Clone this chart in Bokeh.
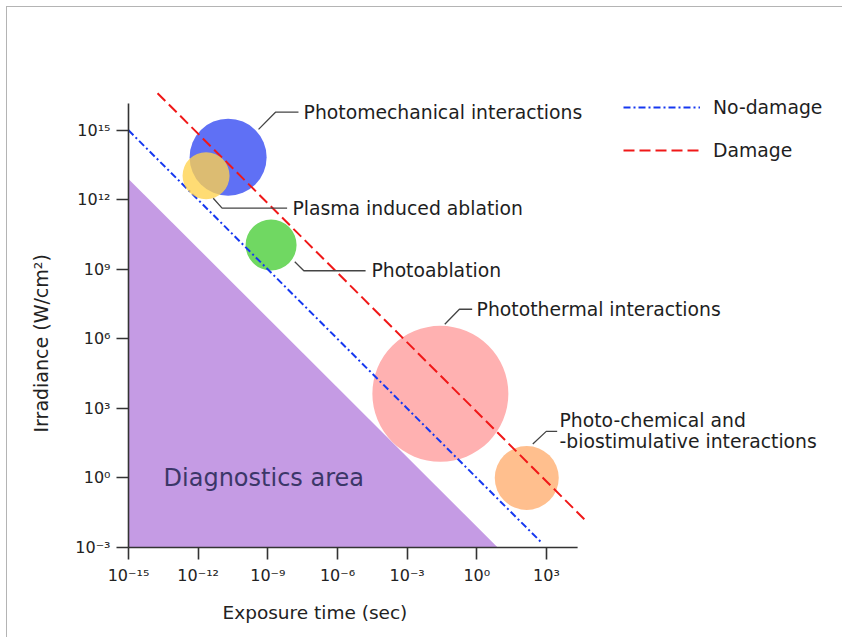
import numpy as np
from bokeh.plotting import figure
from bokeh.models import Range1d, FixedTicker, Legend, LegendItem, ColumnDataSource, Title
from bokeh.core.properties import value
from bokeh.embed import file_html
from bokeh.resources import INLINE

# ---------------- data (log10 values) ----------------
interactions = ["Photomechanical interactions", "Plasma induced ablation", "Photoablation",
                "Photothermal interactions", "Photo-chemical and\n-biostimulative interactions"]
bubble_log_time = [-10.71, -11.66, -8.86, -1.57, 2.15]      # log10(exposure time, s)
bubble_log_irr = [13.84, 13.04, 10.05, 3.63, 0.0]           # log10(irradiance, W/cm2)
bubble_diam_px = [77, 47, 51, 136, 64]
bubble_colors = ["#5f70f5", "#ffd24d", "#70d862", "#ffb1b1", "#ffbf8e"]

# threshold lines: log irradiance = offset - log time
no_damage_log_time = [-15.0, 2.8]
no_damage_offset = 0.0
damage_log_time = [-13.75, 4.77]
damage_offset = 2.85

# diagnostics area triangle
diag_log_time = [-15.0, -15.0, 0.9]
diag_log_irr = [-3.0, 12.9, -3.0]

x_tick_exp = [-15, -12, -9, -6, -3, 0, 3]
y_tick_exp = [-3, 0, 3, 6, 9, 12, 15]
x_axis_end_exp = 4.34
y_axis_end_exp = 16.16

# annotation leader lines (log coords) and text anchors
leader_x = [[-9.40, -8.67, -7.68], [-11.35, -10.97, -8.17], [-7.84, -7.45, -4.79],
            [-1.38, -0.75, -0.20], [2.41, 2.99, 3.46]]
leader_y = [[15.04, 15.78, 15.78], [12.07, 11.64, 11.64], [9.33, 8.94, 8.94],
            [6.63, 7.28, 7.28], [1.47, 2.01, 2.01]]
label_x = [-7.46, -7.94, -4.54, -0.01, 3.56]
label_y = [15.78, 11.64, 8.94, 7.28, 2.01]

P = lambda e: 10.0 ** np.asarray(e, dtype=float)
sup = str.maketrans("-0123456789", "⁻⁰¹²³⁴⁵⁶⁷⁸⁹")
FONT = "DejaVu Sans"

# ---------------- figure ----------------
W, H = 836, 631
p = figure(width=W, height=H, x_axis_type="log", y_axis_type="log",
           output_backend="svg", toolbar_location=None,
           min_border_left=119, min_border_right=0, min_border_top=13, min_border_bottom=88,
           x_range=Range1d(10 ** -15.086, 10 ** 15.79),
           y_range=Range1d(10 ** -3.086, 10 ** 19.737))
p.outline_line_color = None
p.grid.visible = False
p.background_fill_color = "white"
p.border_fill_color = "white"
p.styles = {"margin-left": "6px", "margin-top": "6px",
            "border-top": "1px solid #b4b4b4", "border-left": "1px solid #b4b4b4"}

# diagnostics area
p.patch(P(diag_log_time), P(diag_log_irr), fill_color="#c59be4", line_color=None)
p.text(x=[10 ** -13.49], y=[1.0], text=["Diagnostics area"], text_font=value(FONT),
       text_font_size="24px", text_color="#3b3768", text_baseline="middle", text_align="left")

# bubbles (all except the translucent plasma one, which sits above the lines)
src = ColumnDataSource(dict(x=P(bubble_log_time), y=P(bubble_log_irr), d=bubble_diam_px,
                            c=bubble_colors, name=interactions))
order_under = [0, 2, 3, 4]
src_under = ColumnDataSource({k: [v[i] for i in order_under] for k, v in src.data.items()})
src_over = ColumnDataSource({k: [v[1]] for k, v in src.data.items()})
p.scatter("x", "y", size="d", fill_color="c", line_color=None, source=src_under)

# threshold lines
nd_x = P(no_damage_log_time)
nd_y = P(no_damage_offset - np.asarray(no_damage_log_time))
dm_x = P(damage_log_time)
dm_y = P(damage_offset - np.asarray(damage_log_time))
r_nd = p.line(nd_x, nd_y, line_color="#1638f0", line_width=2, line_dash="7 3 2 3")
r_dm = p.line(dm_x, dm_y, line_color="#f01818", line_width=2, line_dash="11 5")

p.scatter("x", "y", size="d", fill_color="c", fill_alpha=0.78, line_color=None, source=src_over)

# leader lines and labels
p.multi_line([list(P(lx)) for lx in leader_x], [list(P(ly)) for ly in leader_y],
             line_color="#444444", line_width=1.3)
p.text(x=P(label_x), y=P(label_y), text=interactions, text_font=value(FONT),
       text_font_size="18.8px", text_color="#1e1e1e", text_baseline="middle", text_align="left",
       text_line_height=1.0)

# axis lines (drawn in data space)
p.segment(x0=P([-15, -15]), y0=P([-3, -3]), x1=P([-15, x_axis_end_exp]),
          y1=P([y_axis_end_exp, -3]), line_color="#333333", line_width=1.6)

# axes
for ax, ticks in ((p.xaxis[0], x_tick_exp), (p.yaxis[0], y_tick_exp)):
    vals = [10.0 ** e for e in ticks]
    ax.ticker = FixedTicker(ticks=vals, minor_ticks=[])
    ax.major_label_overrides = {v: "10" + str(e).translate(sup) for v, e in zip(vals, ticks)}
    ax.axis_line_color = None
    ax.major_tick_in = 2
    ax.major_tick_out = 10
    ax.major_tick_line_color = "#333333"
    ax.major_tick_line_width = 1.6
    ax.minor_tick_line_color = None
    ax.major_label_text_font = FONT
    ax.major_label_text_font_size = "16px"
    ax.major_label_text_color = "#222222"
    ax.major_label_standoff = 6
p.yaxis.major_label_orientation = "horizontal"

# axis titles (placed along the drawn axis lines)
p.add_layout(Title(text="Exposure time (sec)", align="left", offset=96, standoff=28,
                   vertical_align="top", text_font=FONT, text_font_size="18.5px",
                   text_font_style="normal", text_color="#222222"), "below")
p.add_layout(Title(text="Irradiance (W/cm²)", align="left", offset=117, standoff=37,
                   vertical_align="top", text_font=FONT, text_font_size="19px",
                   text_font_style="normal", text_color="#222222"), "left")

# legend
legend = Legend(items=[LegendItem(label="No-damage", renderers=[r_nd]),
                       LegendItem(label="Damage", renderers=[r_dm])],
                location=(497, 388), orientation="vertical",
                glyph_width=77, glyph_height=22, label_height=22, spacing=21,
                label_standoff=13, padding=0, margin=0,
                border_line_color=None, background_fill_alpha=0,
                label_text_font=FONT, label_text_font_size="18.8px", label_text_color="#1e1e1e")
p.add_layout(legend)

open("out.html", "w").write(file_html(p, INLINE))
